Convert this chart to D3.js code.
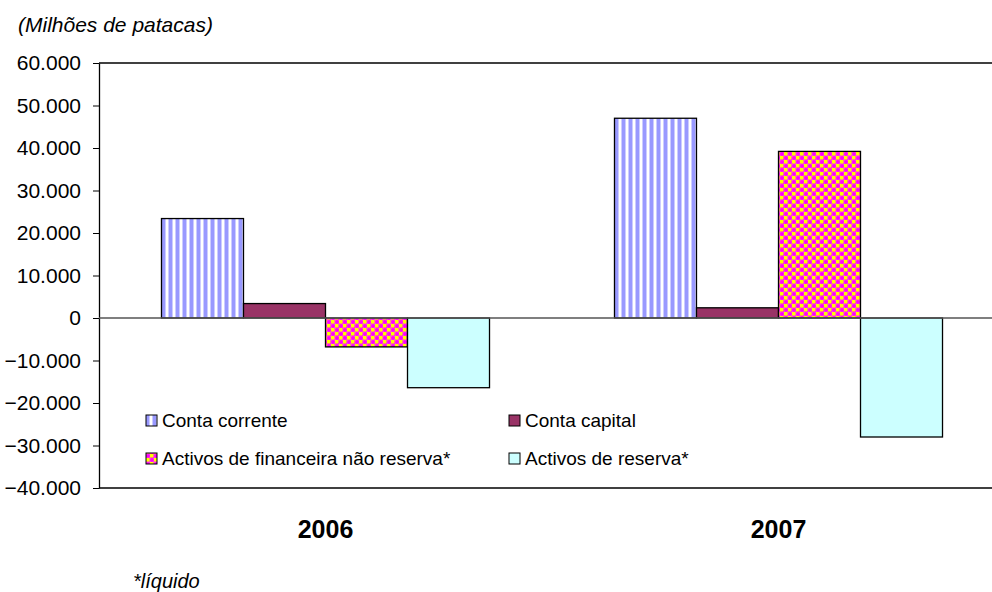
<!DOCTYPE html>
<html>
<head>
<meta charset="utf-8">
<script src="https://cdn.jsdelivr.net/npm/d3@7"></script>
<style>
  body { margin: 0; background: #fff; }
  svg { display: block; font-family: "Liberation Sans", Arial, sans-serif; }
</style>
</head>
<body>
<script>
// data (millions of patacas)
const years = ["2006", "2007"];
const seriesNames = [
  "Conta corrente",
  "Conta capital",
  "Activos de financeira não reserva*",
  "Activos de reserva*",
];
const contaCorrente = [23400, 47000];
const contaCapital = [3400, 2400];
const activosFinanceira = [-6800, 39200];
const activosReserva = [-16400, -28000];
const yTicks = [-40000, -30000, -20000, -10000, 0, 10000, 20000, 30000, 40000, 50000, 60000];

const values = [contaCorrente, contaCapital, activosFinanceira, activosReserva];

const width = 992;
const height = 592;
const margin = { top: 63, right: -13, bottom: 104, left: 99 };

const svg = d3
  .select("body")
  .append("svg")
  .attr("width", width)
  .attr("height", height);

// patterns
const defs = svg.append("defs");

const stripes = defs
  .append("pattern")
  .attr("id", "stripes")
  .attr("patternUnits", "userSpaceOnUse")
  .attr("width", 7)
  .attr("height", 7);
stripes.append("rect").attr("width", 7).attr("height", 7).attr("fill", "#fff");
stripes.append("rect").attr("x", 0).attr("width", 3).attr("height", 7).attr("fill", "#9999ff");
stripes.append("rect").attr("x", 3).attr("width", 1).attr("height", 7).attr("fill", "#ccccff");
stripes.append("rect").attr("x", 6).attr("width", 1).attr("height", 7).attr("fill", "#ccccff");

const checks = defs
  .append("pattern")
  .attr("id", "checks")
  .attr("patternUnits", "userSpaceOnUse")
  .attr("width", 8)
  .attr("height", 8);
checks.append("rect").attr("width", 8).attr("height", 8).attr("fill", "#ff00ff");
checks.append("circle").attr("cx", 2).attr("cy", 6).attr("r", 2.4).attr("fill", "none").attr("stroke", "#ff66cc").attr("stroke-width", 0.8);
checks.append("circle").attr("cx", 6).attr("cy", 2).attr("r", 2.4).attr("fill", "none").attr("stroke", "#ff66cc").attr("stroke-width", 0.8);
checks.append("rect").attr("x", 0).attr("y", 0).attr("width", 3.5).attr("height", 3.5).attr("fill", "#ffff00");
checks.append("rect").attr("x", 4).attr("y", 4).attr("width", 3.5).attr("height", 3.5).attr("fill", "#ffff00");

const fills = ["url(#stripes)", "#993366", "url(#checks)", "#ccffff"];

const x0 = d3
  .scaleBand()
  .domain(years)
  .range([margin.left, width - margin.right]);

const x1 = d3
  .scaleBand()
  .domain(d3.range(seriesNames.length))
  .range([0, x0.bandwidth()])
  .paddingOuter(0.762)
  .paddingInner(0);

const y = d3
  .scaleLinear()
  .domain([-40000, 60000])
  .range([height - margin.bottom, margin.top]);

const fmt = (v) => d3.format(",")(v).replace(/,/g, ".");

// axis
const yAxis = svg
  .append("g")
  .attr("transform", `translate(${margin.left},0)`)
  .call(d3.axisLeft(y).tickValues(yTicks).tickFormat(fmt).tickSize(6).tickSizeOuter(0));
yAxis.select(".domain").attr("stroke", "#000").attr("stroke-width", 1.3);
yAxis.selectAll(".tick line").attr("stroke", "#000");
yAxis
  .selectAll(".tick text")
  .attr("x", -18)
  .attr("font-size", 21)
  .attr("fill", "#000")
  .attr("font-family", "Liberation Sans, Arial, sans-serif");

// top and bottom frame lines
svg
  .append("line")
  .attr("x1", margin.left)
  .attr("x2", width)
  .attr("y1", y(60000))
  .attr("y2", y(60000))
  .attr("stroke", "#000")
  .attr("stroke-width", 1.3);
svg
  .append("line")
  .attr("x1", margin.left)
  .attr("x2", width)
  .attr("y1", y(-40000))
  .attr("y2", y(-40000))
  .attr("stroke", "#000")
  .attr("stroke-width", 1.3);

// bars
const groups = svg
  .selectAll("g.year")
  .data(years)
  .enter()
  .append("g")
  .attr("class", "year")
  .attr("transform", (d) => `translate(${x0(d)},0)`);

groups
  .selectAll("rect")
  .data((d, i) => values.map((s, k) => ({ k: k, v: s[i] })))
  .enter()
  .append("rect")
  .attr("x", (d) => x1(d.k))
  .attr("width", x1.bandwidth())
  .attr("y", (d) => y(Math.max(0, d.v)))
  .attr("height", (d) => Math.abs(y(d.v) - y(0)))
  .attr("fill", (d) => fills[d.k])
  .attr("stroke", "#000")
  .attr("stroke-width", 1.3);

// zero line
svg
  .append("line")
  .attr("x1", margin.left)
  .attr("x2", width)
  .attr("y1", y(0))
  .attr("y2", y(0))
  .attr("stroke", "#555")
  .attr("stroke-width", 1.3);

// category labels
svg
  .selectAll("text.year")
  .data(years)
  .enter()
  .append("text")
  .attr("class", "year")
  .attr("x", (d) => x0(d) + x0.bandwidth() / 2)
  .attr("y", 538)
  .attr("text-anchor", "middle")
  .attr("font-size", 25)
  .attr("font-weight", "bold")
  .text((d) => d);

// legend
const legendPos = [
  [146, 420],
  [509, 420],
  [146, 458],
  [509, 458],
];
const legend = svg
  .append("g")
  .selectAll("g")
  .data(seriesNames)
  .enter()
  .append("g")
  .attr("transform", (d, i) => `translate(${legendPos[i][0]},${legendPos[i][1]})`);

legend
  .append("rect")
  .attr("x", 0)
  .attr("y", -5)
  .attr("width", 11)
  .attr("height", 11)
  .attr("fill", (d, i) => fills[i])
  .attr("stroke", "#000")
  .attr("stroke-width", 1);

legend
  .append("text")
  .attr("x", 16)
  .attr("y", 7)
  .attr("font-size", 19)
  .text((d) => d);

// notes
svg
  .append("text")
  .attr("x", 18)
  .attr("y", 32)
  .attr("font-size", 21)
  .attr("font-style", "italic")
  .text("(Milhões de patacas)");

svg
  .append("text")
  .attr("x", 133)
  .attr("y", 588)
  .attr("font-size", 20)
  .attr("font-style", "italic")
  .text("*líquido");
</script>
</body>
</html>
